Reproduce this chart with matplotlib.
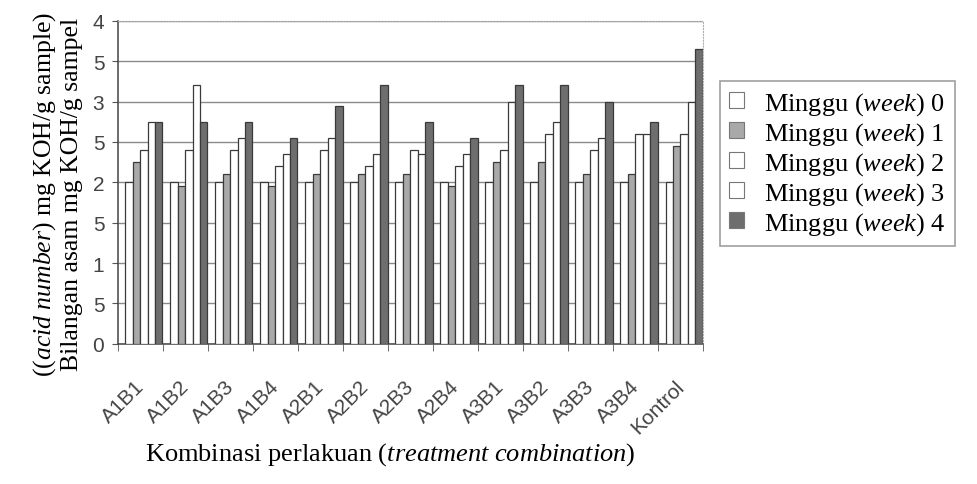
import matplotlib
matplotlib.use('Agg')
import matplotlib.pyplot as plt
import numpy as np

# data
groups = ['A1B1', 'A1B2', 'A1B3', 'A1B4', 'A2B1', 'A2B2', 'A2B3',
          'A2B4', 'A3B1', 'A3B2', 'A3B3', 'A3B4', 'Kontrol']
week0 = [2.0, 2.0, 2.0, 2.0, 2.0, 2.0, 2.0, 2.0, 2.0, 2.0, 2.0, 2.0, 2.0]
week1 = [2.25, 1.95, 2.1, 1.95, 2.1, 2.1, 2.1, 1.95, 2.25, 2.25, 2.1, 2.1, 2.45]
week2 = [2.4, 2.4, 2.4, 2.2, 2.4, 2.2, 2.4, 2.2, 2.4, 2.6, 2.4, 2.6, 2.6]
week3 = [2.75, 3.2, 2.55, 2.35, 2.55, 2.35, 2.35, 2.35, 3.0, 2.75, 2.55, 2.6, 3.0]
week4 = [2.75, 2.75, 2.75, 2.55, 2.95, 3.2, 2.75, 2.55, 3.2, 3.2, 3.0, 2.75, 3.65]
series = [week0, week1, week2, week3, week4]
names = ['Minggu ($\\mathit{week}$) 0', 'Minggu ($\\mathit{week}$) 1',
         'Minggu ($\\mathit{week}$) 2', 'Minggu ($\\mathit{week}$) 3',
         'Minggu ($\\mathit{week}$) 4']
yticks = [0, 0.5, 1, 1.5, 2, 2.5, 3, 3.5, 4]
ytick_labels = ['0', '5', '1', '5', '2', '5', '3', '5', '4']   # as printed in the scan

fills = ['white', '#a9a9a9', 'white', 'white', '#6e6e6e']

plt.rcParams['mathtext.fontset'] = 'custom'
plt.rcParams['mathtext.rm'] = 'Liberation Serif'
plt.rcParams['mathtext.it'] = 'Liberation Serif:italic'
serif = 'Liberation Serif'
sans = 'Liberation Sans'

fig = plt.figure(figsize=(9.77, 4.85), dpi=100)
ax = fig.add_axes([0.121, 0.289, 0.599, 0.666])

x = np.arange(len(groups))
w = 0.165
for i in range(5):
    ax.bar(x + (i - 2) * w + 0.07, series[i], w, color=fills[i],
           edgecolor='#3a3a3a', linewidth=0.9, label=names[i], zorder=3)

ax.set_xlim(-0.5, len(groups) - 0.5)
ax.set_ylim(0, 4)
ax.set_yticks(yticks)
ax.set_yticklabels(ytick_labels, fontsize=15, color='#444444', family=sans)
ax.yaxis.grid(True, color='#8a8a8a', linewidth=1.0, zorder=0)

ax.set_xticks(x)
ax.set_xticklabels(groups, fontsize=15, color='#444444', family=sans)
plt.setp(ax.get_xticklabels(), rotation=45, ha='right', va='center',
         rotation_mode='anchor')
ax.set_xticks(np.arange(len(groups) + 1) - 0.5, minor=True)
ax.tick_params(axis='x', which='major', length=0, pad=28)
ax.tick_params(axis='x', which='minor', length=5, color='#555555')
ax.tick_params(axis='y', length=4, color='#555555', pad=6)

for s in ['top', 'right']:
    ax.spines[s].set_color('#b0b0b0')
    ax.spines[s].set_linestyle(':')
for s in ['left', 'bottom']:
    ax.spines[s].set_color('#444444')
    ax.spines[s].set_linewidth(1.1)

# axis titles
fig.text(0.40, 0.062, 'Kombinasi perlakuan ($\\mathit{treatment\\ combination}$)',
         ha='center', va='center', fontsize=19, family=serif)
fig.text(0.074, 0.60, 'Bilangan asam mg KOH/g sampel', rotation=90,
         ha='center', va='center', fontsize=18.5, family=serif)
fig.text(0.046, 0.60, '(($\\mathit{acid\\ number}$) mg KOH/g sample)', rotation=90,
         ha='center', va='center', fontsize=18.5, family=serif)

leg = fig.legend(loc='upper left', bbox_to_anchor=(0.737, 0.831),
                 borderaxespad=0, prop={'family': serif, 'size': 19},
                 frameon=True, fancybox=False, handlelength=0.55,
                 handleheight=0.55, handletextpad=0.75, labelspacing=0.12,
                 borderpad=0.35)
leg.get_frame().set_edgecolor('#888888')
leg.get_frame().set_linewidth(1.2)
for h in leg.legend_handles:
    h.set_edgecolor('#777777')
    h.set_linewidth(0.8)

fig.savefig('out.png', dpi=100, facecolor='white')
